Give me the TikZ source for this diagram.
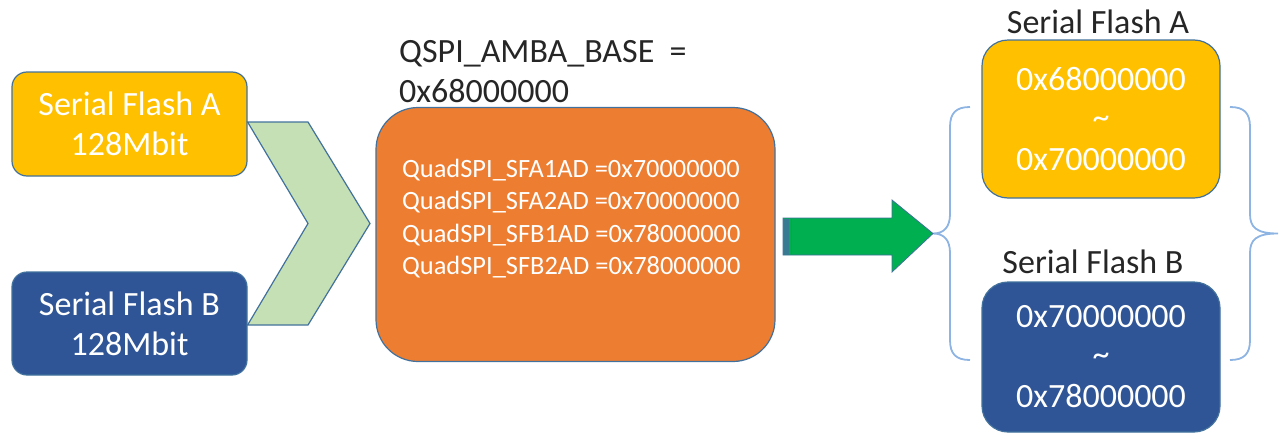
\documentclass[tikz,border=0pt]{standalone}
\usepackage{fontspec}
\setmainfont{Carlito}
\definecolor{flashA}{HTML}{FFC000}
\definecolor{flashB}{HTML}{2F5597}
\definecolor{ctrl}{HTML}{ED7D31}
\definecolor{chev}{HTML}{C5E0B4}
\definecolor{go}{HTML}{00B050}
\definecolor{edge}{HTML}{41719C}
\definecolor{brace}{HTML}{8DB4E2}
\definecolor{ink}{HTML}{262626}
\tikzset{
  box/.style={draw=edge, line width=1.2pt, rounded corners=#1, inner sep=0pt,
    text=white, align=center, font=\fontsize{34}{40}\selectfont},
  box/.default=15pt,
  label/.style={text=ink, inner sep=0pt, font=\fontsize{34}{40}\selectfont},
  regtext/.style={text=white, inner sep=0pt, align=left,
    font=\fontsize{26.4}{32.4}\selectfont},
  bracepath/.style={draw=brace, line width=1.8pt},
}
\begin{document}
\begin{tikzpicture}[x=1pt,y=-1pt]
\useasboundingbox (0,0) rectangle (1283,442);

% source flash devices
\node[box, fill=flashA, minimum width=235pt, minimum height=104pt] (srcA) at (129.5,124) {Serial Flash A\\128Mbit};
\node[box, fill=flashB, minimum width=235pt, minimum height=103pt] (srcB) at (129.5,323.5) {Serial Flash B\\128Mbit};

% QSPI controller
\node[label, anchor=west, align=left] (base) at (399,72) {QSPI\_AMBA\_BASE~~=\\0x68000000};
\node[box=42pt, fill=ctrl, minimum width=399pt, minimum height=254pt] (ctrl) at (575.5,234.5) {};
\node[regtext, anchor=west] (regs) at (402,218.5)
  {QuadSPI\_SFA1AD =0x70000000\\QuadSPI\_SFA2AD =0x70000000\\QuadSPI\_SFB1AD =0x78000000\\QuadSPI\_SFB2AD =0x78000000};

% chevron merging both devices into the controller
\coordinate (chevTL) at (srcA.east |- 0,122);
\coordinate (chevBL) at (srcB.east |- 0,325);
\filldraw[fill=chev, draw=edge, line width=1.2pt]
  (chevTL) -- (308,122) -- (370,223.5) -- (308,325) -- (chevBL) -- (308,223.5) -- cycle;

% resulting address map
\node[label] (lblA) at (1098,22) {Serial Flash A};
\node[box=26pt, fill=flashA, minimum width=238pt, minimum height=158pt] (mapA) at (1101,119) {0x68000000\\[-2pt]\char`~\\[2pt]0x70000000};
\node[label] (lblB) at (1093,262) {Serial Flash B};
\node[box=26pt, fill=flashB, minimum width=238pt, minimum height=150pt] (mapB) at (1101,357) {0x70000000\\[-2pt]\char`~\\[2pt]0x78000000};

% braces around the map
\coordinate (lbTip) at (933,233.5);
\coordinate (rbTip) at (1278,233.5);
\draw[bracepath] (970,107) .. controls (956,107) and (950,113) .. (950,127)
  -- (950,214) .. controls (950,227) and (944,233.5) .. (lbTip)
  .. controls (944,233.5) and (950,240) .. (950,253)
  -- (950,340) .. controls (950,354) and (956,360) .. (970,360);
\draw[bracepath] (1230,107) .. controls (1244,107) and (1250,113) .. (1250,127)
  -- (1250,214) .. controls (1250,227) and (1256,233.5) .. (rbTip)
  .. controls (1256,233.5) and (1250,240) .. (1250,253)
  -- (1250,340) .. controls (1250,354) and (1244,360) .. (1230,360);

% block arrow from controller to map
\coordinate (arrTail) at (783,236.5);
\filldraw[fill=go, draw=edge, line width=0.8pt]
  (arrTail |- 0,218) -- (892,218) -- (892,200) -- (lbTip) -- (892,272) -- (892,255)
  -- (arrTail |- 0,255) -- cycle;
\fill[edge!85!go] (783.5,218.5) rectangle (789,254.5);
\fill[edge!60!go] (790.5,218.5) rectangle (792,254.5);
\end{tikzpicture}
\end{document}
